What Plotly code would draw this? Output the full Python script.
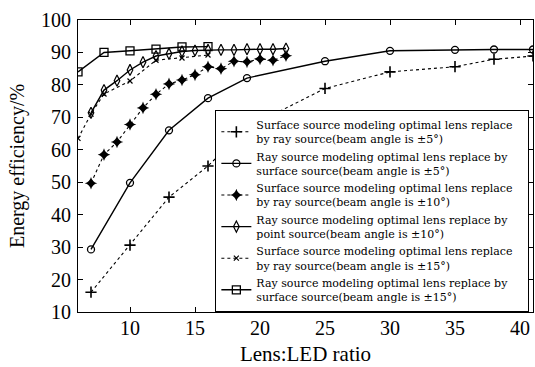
import plotly.graph_objects as go

# Data
x_s1 = [7, 10, 13, 16, 19, 25, 30, 35, 38, 41]
y_s1 = [16.1, 30.6, 45.4, 55.0, 66.8, 78.9, 84.0, 85.6, 87.9, 88.9]

x_s2 = [7, 10, 13, 16, 19, 25, 30, 35, 38, 41]
y_s2 = [29.3, 49.8, 66.0, 75.9, 82.1, 87.3, 90.5, 90.8, 90.9, 90.9]

x_s3 = [7, 8, 9, 10, 11, 12, 13, 14, 15, 16, 17, 18, 19, 20, 21, 22]
y_s3 = [49.7, 58.5, 62.4, 67.8, 72.9, 77.1, 80.3, 81.5, 83.1, 85.6, 85.0, 87.3, 87.1, 88.0, 87.6, 89.0]

x_s4 = [7, 8, 9, 10, 11, 12, 13, 14, 15, 16, 17, 18, 19, 20, 21, 22]
y_s4 = [71.4, 78.4, 81.3, 84.6, 87.0, 88.9, 89.6, 90.3, 90.6, 90.8, 90.8, 90.8, 91.0, 91.0, 91.0, 91.2]

x_s5 = [6, 7, 8, 10, 12, 14, 16]
y_s5 = [63.5, 71.0, 77.2, 81.2, 87.6, 88.3, 89.2]

x_s6 = [6, 8, 10, 12, 14, 16]
y_s6 = [84.0, 90.0, 90.5, 91.0, 91.7, 91.8]

PAD = "\u00a0\u00a0\u00a0"
names = [
    "Surface source modeling optimal lens replace" + PAD + "<br>by ray source(beam angle is \u00b15\u00b0)",
    "Ray source modeling optimal lens replace by" + PAD + "<br>surface source(beam angle is \u00b15\u00b0)",
    "Surface source modeling optimal lens replace" + PAD + "<br>by ray source(beam angle is \u00b110\u00b0)",
    "Ray source modeling optimal lens replace by" + PAD + "<br>point source(beam angle is \u00b110\u00b0)",
    "Surface source modeling optimal lens replace" + PAD + "<br>by ray source(beam angle is \u00b115\u00b0)",
    "Ray source modeling optimal lens replace by" + PAD + "<br>surface source(beam angle is \u00b115\u00b0)",
]

x_ticks = [10, 15, 20, 25, 30, 35, 40]
y_ticks = [10, 20, 30, 40, 50, 60, 70, 80, 90, 100]

series = [
    (x_s1, y_s1, "dot", dict(symbol="cross-thin-open", size=8, line=dict(width=1.6, color="black"))),
    (x_s2, y_s2, "solid", dict(symbol="circle-open", size=7, line=dict(width=1.3, color="black"))),
    (x_s3, y_s3, "dot", dict(symbol="star-diamond", size=9, line=dict(width=0))),
    (x_s4, y_s4, "solid", dict(symbol="diamond-tall-open", size=8, line=dict(width=1.2, color="black"))),
    (x_s5, y_s5, "dot", dict(symbol="x-thin-open", size=5, line=dict(width=1.2, color="black"))),
    (x_s6, y_s6, "solid", dict(symbol="square-open", size=8, line=dict(width=1.3, color="black"))),
]

fig = go.Figure()
for (xs, ys, dash, mk), nm in zip(series, names):
    fig.add_trace(go.Scatter(
        x=xs, y=ys, mode="lines+markers", name=nm,
        line=dict(color="black", width=1.4 if dash == "solid" else 1.1, dash=dash),
        marker=dict(color="black", **mk),
    ))

axis_common = dict(
    showline=True, linecolor="black", linewidth=1.2, mirror="ticks",
    ticks="inside", ticklen=5, tickcolor="black", showgrid=False, zeroline=False,
    automargin=False,
    tickfont=dict(family="Liberation Serif", size=20, color="black"),
)

fig.update_layout(
    width=535, height=367,
    margin=dict(l=78, r=2, t=20, b=55),
    paper_bgcolor="white", plot_bgcolor="white",
    xaxis=dict(range=[6, 41], tickvals=x_ticks, ticklabelstandoff=-2,
               title=dict(text="Lens:LED ratio", font=dict(family="Liberation Serif", size=21, color="black"), standoff=8),
               **axis_common),
    yaxis=dict(range=[10, 100], tickvals=y_ticks, ticklabelstandoff=2,
               title=dict(text="Energy efficiency/%", font=dict(family="Liberation Serif", size=20, color="black"), standoff=10),
               **axis_common),
    legend=dict(
        x=0.992, y=0.0, xanchor="right", yanchor="bottom",
        bgcolor="white", bordercolor="black", borderwidth=1,
        font=dict(family="DejaVu Serif", size=11, color="black"),
        itemwidth=30, tracegroupgap=0,
    ),
    showlegend=True,
)

fig.write_html("out.html", config={"displayModeBar": False},
               post_script="document.body.style.margin='0';")
